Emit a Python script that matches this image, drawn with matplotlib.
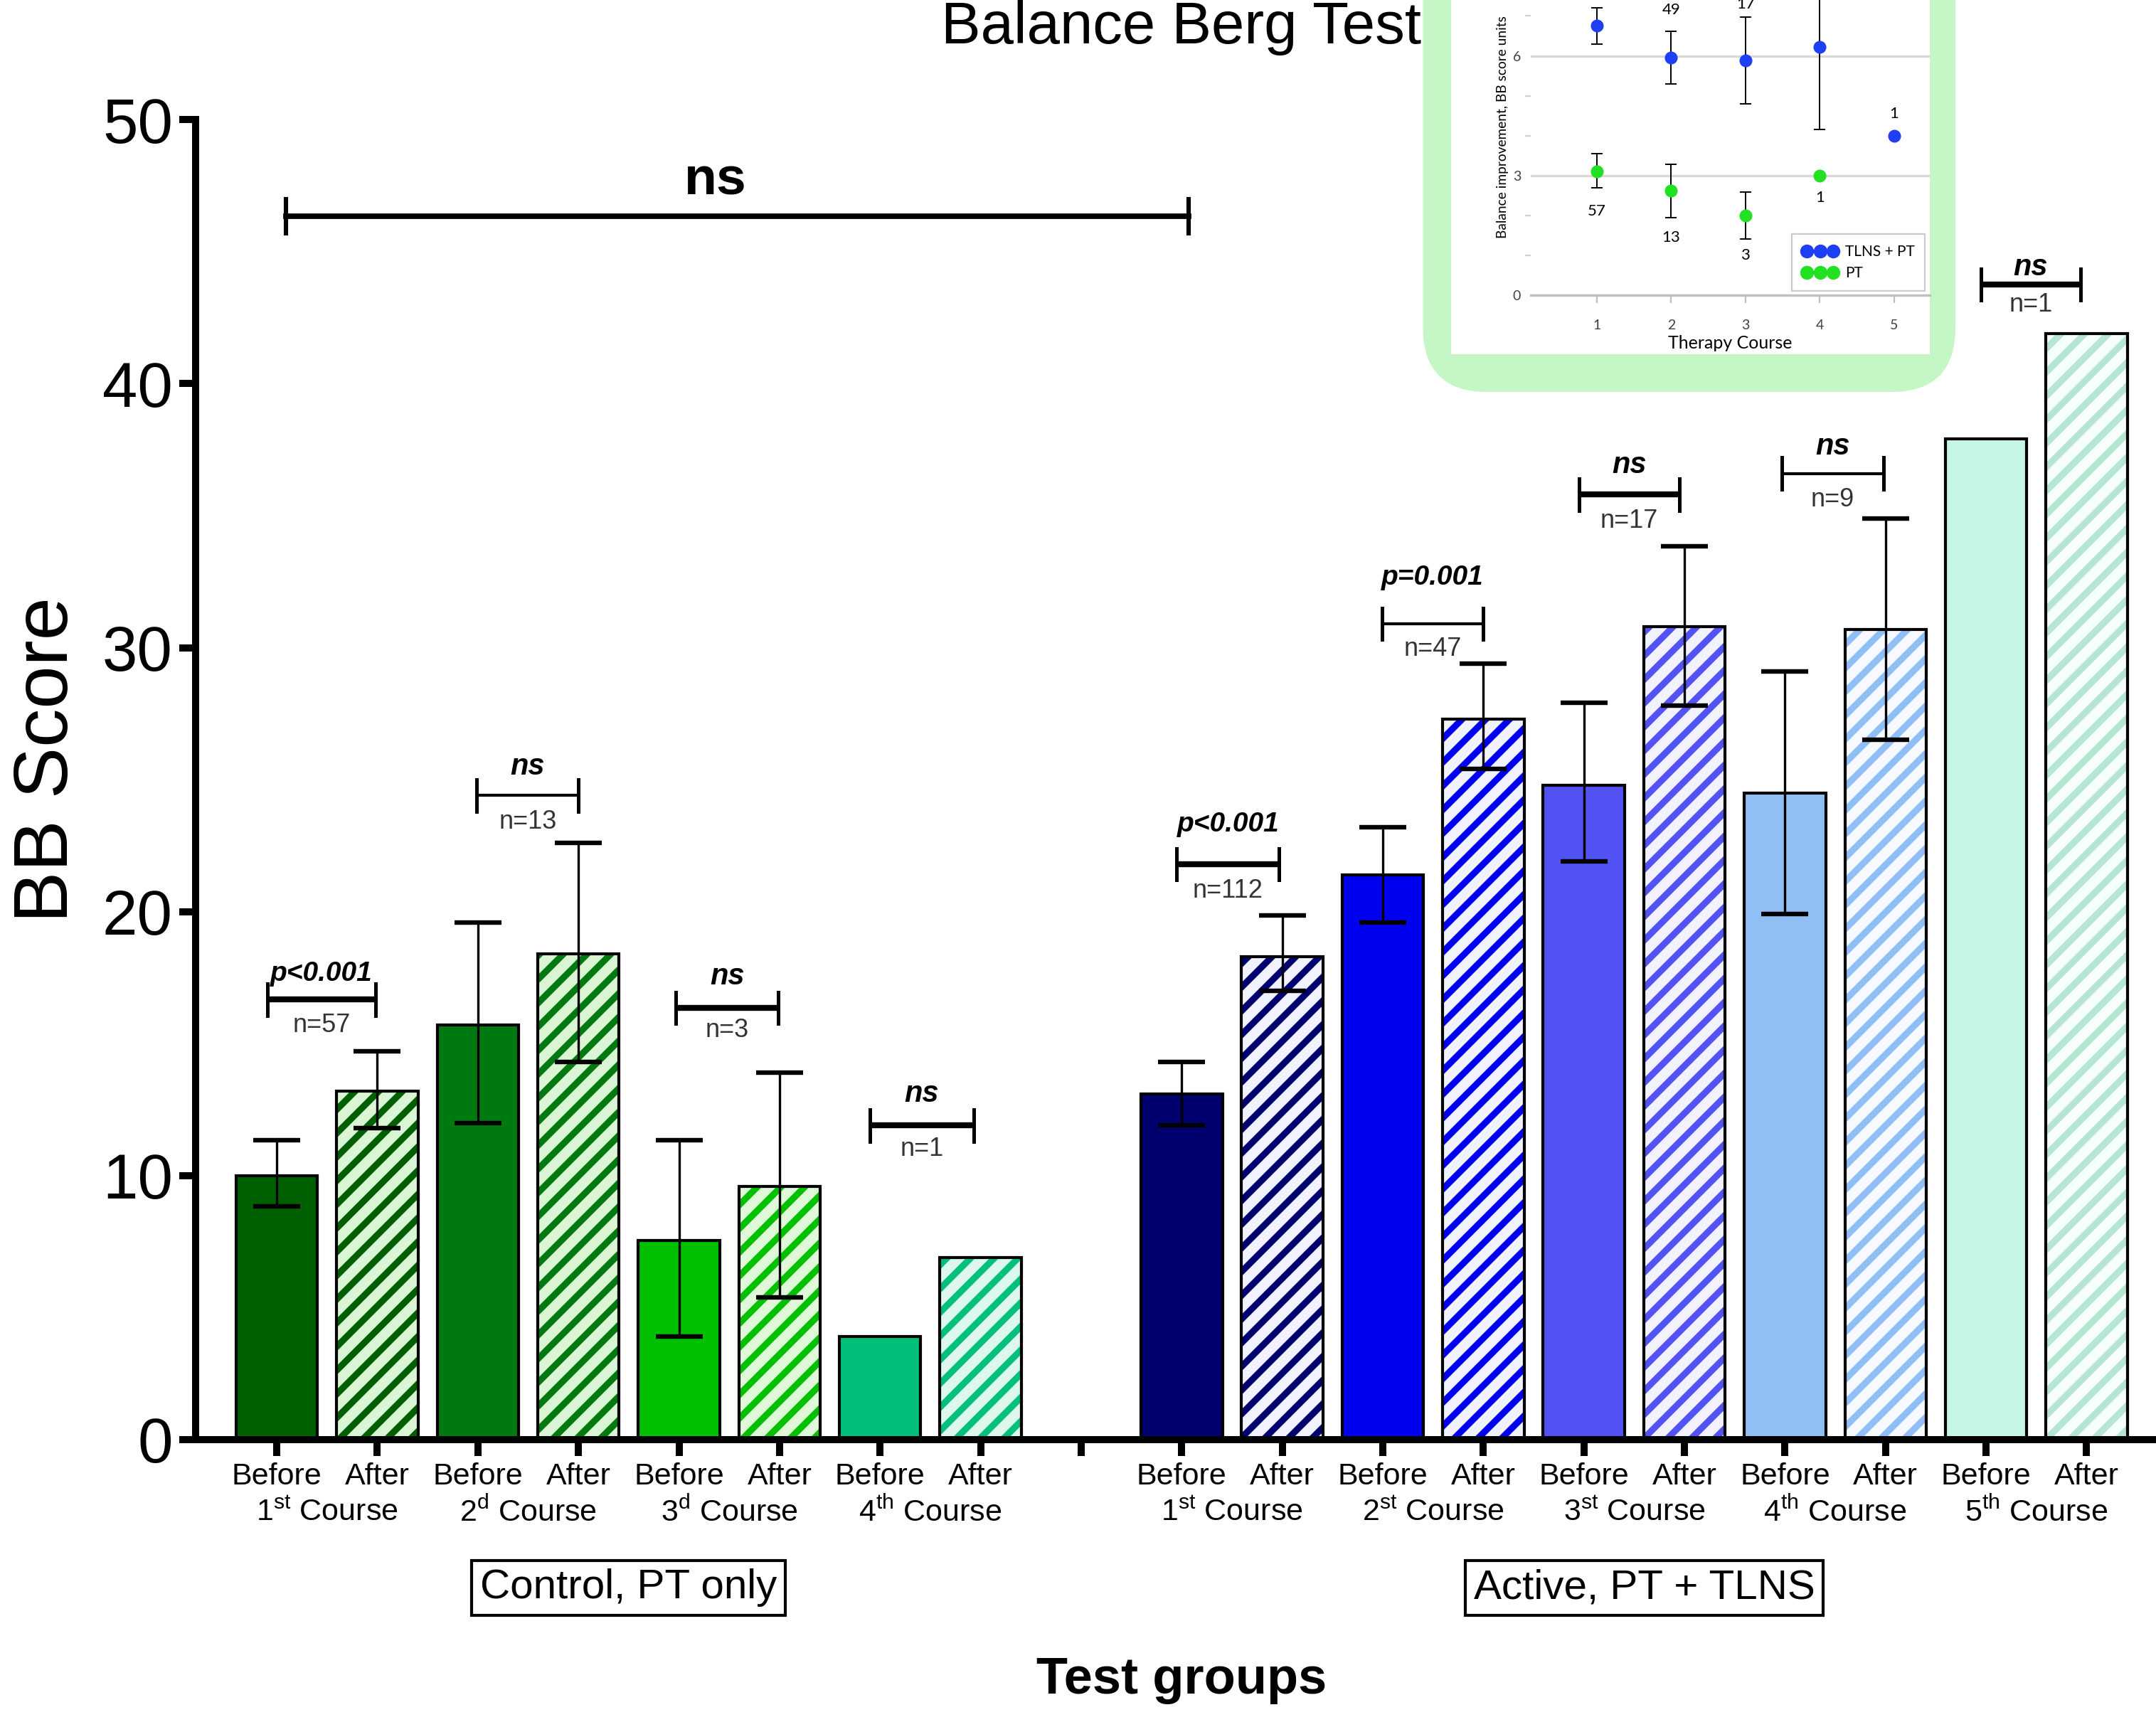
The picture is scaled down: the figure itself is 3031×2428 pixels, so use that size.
import matplotlib
matplotlib.use('Agg')
import matplotlib.pyplot as plt
from matplotlib import font_manager
from matplotlib.patches import FancyBboxPatch, Rectangle
from matplotlib.lines import Line2D

names = {f.name for f in font_manager.fontManager.ttflist}
narrow = 'Liberation Sans Narrow' if 'Liberation Sans Narrow' in names else 'Liberation Sans'
small = 'Lato' if 'Lato' in names else 'DejaVu Sans'

plt.rcParams['font.family'] = ['Liberation Sans', 'DejaVu Sans']
plt.rcParams['mathtext.fontset'] = 'custom'
plt.rcParams['mathtext.rm'] = narrow
plt.rcParams['hatch.linewidth'] = 3.3

# ---- main chart data (BB score, mean and error bar ends) ----
pos_ctrl = [0, 1, 2, 3, 4, 5, 6, 7]
bb_ctrl = [10.0, 13.2, 15.7, 18.4, 7.55, 9.6, 3.9, 6.9]
lo_ctrl = [8.85, 11.8, 12.0, 14.3, 3.9, 5.4, None, None]
hi_ctrl = [11.35, 14.7, 19.6, 22.6, 11.35, 13.9, None, None]

pos_act = [9, 10, 11, 12, 13, 14, 15, 16, 17, 18]
bb_act = [13.1, 18.3, 21.4, 27.3, 24.8, 30.8, 24.5, 30.7, 37.9, 41.9]
lo_act = [11.9, 17.0, 19.6, 25.4, 21.9, 27.8, 19.9, 26.5, None, None]
hi_act = [14.3, 19.85, 23.2, 29.4, 27.9, 33.85, 29.1, 34.9, None, None]

courses_ctrl = [('1', 'st'), ('2', 'd'), ('3', 'd'), ('4', 'th')]
courses_act = [('1', 'st'), ('2', 'st'), ('3', 'st'), ('4', 'th'), ('5', 'th')]

ctrl_colors = ['#005f00', '#007a10', '#00c000', '#00c07a']
ctrl_pale = ['#d9f5d3', '#d9f5d3', '#dff8d8', '#dcf8ee']
act_colors = ['#00006e', '#0000f0', '#5252f5', '#90bff5', '#c6f6e4']
act_hatch = ['#00006e', '#0000f0', '#5252f5', '#90bff5', '#b4e6d2']
act_pale = ['#f0f2ff', '#f0f2ff', '#f2f2ff', '#f6f9ff', '#f6fffb']

# significance brackets: x0, x1, y, thick, label, label y, n text, n y
sig_x0 = [-0.09, 1.99, 3.97, 5.9, 8.95, 10.99, 12.95, 14.97, 16.95]
sig_x1 = [0.98, 3.0, 4.99, 6.93, 9.97, 12.0, 13.95, 15.98, 17.94]
sig_y = [16.67, 24.4, 16.35, 11.9, 21.8, 30.9, 35.8, 36.6, 43.75]
sig_thick = [True, False, True, True, True, False, True, False, True]
sig_lab = ['p<0.001', 'ns', 'ns', 'ns', 'p<0.001', 'p=0.001', 'ns', 'ns', 'ns']
sig_lab_y = [17.65, 25.5, 17.55, 13.1, 23.3, 32.65, 36.9, 37.6, 44.4]
sig_n = ['n=57', 'n=13', 'n=3', 'n=1', 'n=112', 'n=47', 'n=17', 'n=9', 'n=1']
sig_n_y = [15.7, 23.4, 15.5, 11.0, 20.8, 29.95, 34.8, 35.6, 43.0]

# ---- inset data (improvement per therapy course) ----
inset_course = [1, 2, 3, 4, 5]
tlns_mean = [6.75, 5.96, 5.88, 6.22, 4.0]
tlns_lo = [6.30, 5.30, 4.80, 4.15, None]
tlns_hi = [7.21, 6.62, 6.97, 8.29, None]
# n labels visible inside the figure (courses 1 and 4 lie above the top edge)
tlns_n_x = [2, 3, 5]
tlns_n = ['49', '17', '1']
tlns_n_y = [7.15, 7.3, 4.55]
pt_course = [1, 2, 3, 4]
pt_mean = [3.11, 2.62, 2.0, 3.0]
pt_lo = [2.69, 1.95, 1.42, None]
pt_hi = [3.55, 3.29, 2.58, None]
pt_n = ['57', '13', '3', '1']
pt_n_y = [2.1, 1.45, 1.0, 2.45]

fig = plt.figure(figsize=(15.155, 12.14), dpi=200)
ax = fig.add_axes([0.0906, 0.1664, 0.9094, 0.7643])


def draw_group(pos, vals, lo, hi, colors, hatches, pales):
    for i, (x, v) in enumerate(zip(pos, vals)):
        c = colors[i // 2]
        if i % 2 == 0:
            ax.bar(x, v, 0.81, color=c, edgecolor='black', linewidth=1.5, zorder=2)
        else:
            ax.bar(x, v, 0.81, color=pales[i // 2], edgecolor=hatches[i // 2],
                   linewidth=0, hatch='//', zorder=2)
            ax.bar(x, v, 0.81, fill=False, edgecolor='black', linewidth=1.5, zorder=3)
    ex = [x for x, l in zip(pos, lo) if l is not None]
    ey = [v for v, l in zip(vals, lo) if l is not None]
    el = [v - l for v, l in zip(vals, lo) if l is not None]
    eh = [h - v for v, h in zip(vals, hi) if h is not None]
    ax.errorbar(ex, ey, yerr=[el, eh], fmt='none', ecolor='black', elinewidth=1.2,
                capsize=12, capthick=2.3, zorder=5)


draw_group(pos_ctrl, bb_ctrl, lo_ctrl, hi_ctrl, ctrl_colors, ctrl_colors, ctrl_pale)
draw_group(pos_act, bb_act, lo_act, hi_act, act_colors, act_hatch, act_pale)

ax.set_xlim(-0.81, 18.69)
ax.set_ylim(0, 50)
ax.set_yticks([0, 10, 20, 30, 40, 50])
ax.tick_params(axis='y', length=8.4, width=3.6, pad=3, labelsize=32)
ticks = pos_ctrl + [8] + pos_act
tick_labels = ['Before', 'After'] * 4 + [''] + ['Before', 'After'] * 5
ax.set_xticks(ticks)
ax.set_xticklabels(tick_labels, fontfamily=narrow, fontsize=15.5)
ax.tick_params(axis='x', length=8.4, width=3.6, pad=3)
for s in ['top', 'right']:
    ax.spines[s].set_visible(False)
for s in ['left', 'bottom']:
    ax.spines[s].set_linewidth(3.6)

for k, (num, sup) in enumerate(courses_ctrl):
    mid = (pos_ctrl[2 * k] + pos_ctrl[2 * k + 1]) / 2
    ax.annotate(num + r'$^{\mathrm{' + sup + '}}$ Course', xy=(mid, 0),
                xycoords=('data', 'axes fraction'), xytext=(0, -37),
                textcoords='offset points', ha='center', va='center',
                fontsize=15.5, fontfamily=narrow)
for k, (num, sup) in enumerate(courses_act):
    mid = (pos_act[2 * k] + pos_act[2 * k + 1]) / 2
    ax.annotate(num + r'$^{\mathrm{' + sup + '}}$ Course', xy=(mid, 0),
                xycoords=('data', 'axes fraction'), xytext=(0, -37),
                textcoords='offset points', ha='center', va='center',
                fontsize=15.5, fontfamily=narrow)

box = dict(boxstyle='square,pad=0.2', fc='white', ec='black', lw=1.5)
ax.annotate('Control, PT only', xy=(3.5, 0), xycoords=('data', 'axes fraction'),
            xytext=(0, -75), textcoords='offset points', ha='center', va='center',
            fontsize=21, fontfamily=narrow, bbox=box)
ax.annotate('Active, PT + TLNS', xy=(13.6, 0), xycoords=('data', 'axes fraction'),
            xytext=(0, -75), textcoords='offset points', ha='center', va='center',
            fontsize=21, fontfamily=narrow, bbox=box)

# significance brackets
for x0, x1, y, th, lab, ly, n, ny in zip(sig_x0, sig_x1, sig_y, sig_thick, sig_lab,
                                          sig_lab_y, sig_n, sig_n_y):
    lw = 3.0 if th else 1.5
    ax.plot([x0, x1], [y, y], color='black', lw=lw, solid_capstyle='butt', zorder=6)
    for xx in (x0, x1):
        ax.plot([xx, xx], [y - 0.6, y + 0.6], color='black', lw=1.8, zorder=6)
    xc = (x0 + x1) / 2
    ax.text(xc, ly, lab, ha='center', va='center', fontsize=15 if lab == 'ns' else 14,
            fontweight='bold', fontstyle='italic', fontfamily=narrow, zorder=6)
    ax.text(xc, ny, n, ha='center', va='center', fontsize=13, color='#333333',
            fontfamily=narrow, zorder=6)

ax.plot([0.09, 9.07], [46.35, 46.35], color='black', lw=2.8, zorder=6)
for xx in (0.09, 9.07):
    ax.plot([xx, xx], [46.35 - 0.65, 46.35 + 0.65], color='black', lw=2.2, zorder=6)
ax.text(4.36, 47.7, 'ns', ha='center', va='center', fontsize=27, fontweight='bold',
        fontfamily=narrow, zorder=6)

fig.text(0.548, 0.984, 'Balance Berg Test', ha='center', va='center', fontsize=30, zorder=3)
fig.text(0.022, 0.56, 'BB Score', rotation=90, ha='center', va='center', fontsize=39)
fig.text(0.548, 0.027, 'Test groups', ha='center', va='center', fontsize=26,
         fontweight='bold')

# ---- inset ----
fig.add_artist(FancyBboxPatch((0.660, 0.773), 0.247, 0.35,
                              boxstyle='round,pad=0,rounding_size=0.03',
                              mutation_aspect=1.25, transform=fig.transFigure,
                              fc='#c4f6c6', ec='none', zorder=5))
fig.add_artist(Rectangle((0.673, 0.795), 0.222, 0.3, transform=fig.transFigure,
                         fc='white', ec='none', zorder=5.5))
ins = fig.add_axes([0.710, 0.829, 0.185, 0.208])
ins.set_zorder(6)
ins.set_facecolor('none')
ins.set_xlim(0.11, 5.48)
ins.set_ylim(0, 9)
ins.set_yticks([0, 3, 6])
ins.set_yticks([1, 2, 4, 5, 7, 8], minor=True)
ins.set_xticks(inset_course)
ins.grid(axis='y', color='#d9d9d9', lw=1.2)
ins.set_axisbelow(True)
for s in ['top', 'right', 'left']:
    ins.spines[s].set_visible(False)
ins.spines['bottom'].set_color('#bfbfbf')
ins.spines['bottom'].set_linewidth(1.2)
ins.tick_params(axis='y', which='major', length=0, pad=5, labelsize=7, labelcolor='#404040')
ins.tick_params(axis='y', which='minor', length=3, width=0.8, color='#d0d0d0')
ins.tick_params(axis='x', length=4, width=0.8, color='#bfbfbf', pad=8, labelsize=7,
                labelcolor='#404040')
for lbl in ins.get_xticklabels() + ins.get_yticklabels():
    lbl.set_fontfamily(small)
ins.set_xlabel('Therapy Course', fontsize=9, fontfamily=small, labelpad=2)

blue = '#1f3ff5'
green = '#22e022'
ins.plot(inset_course, tlns_mean, 'o', color=blue, ms=5.5, zorder=4)
ins.plot(pt_course, pt_mean, 'o', color=green, ms=5.5, zorder=4)


def inset_err(xs, m, lo, hi):
    ex = [x for x, l in zip(xs, lo) if l is not None]
    ey = [v for v, l in zip(m, lo) if l is not None]
    el = [v - l for v, l in zip(m, lo) if l is not None]
    eh = [h - v for v, h in zip(m, hi) if h is not None]
    ins.errorbar(ex, ey, yerr=[el, eh], fmt='none', ecolor='black', elinewidth=0.7,
                 capsize=3, capthick=0.7, zorder=3)


inset_err(inset_course, tlns_mean, tlns_lo, tlns_hi)
inset_err(pt_course, pt_mean, pt_lo, pt_hi)
for x, t, y in zip(tlns_n_x, tlns_n, tlns_n_y):
    ins.text(x, y, t, ha='center', va='center', fontsize=8, fontfamily=small)
for x, t, y in zip(pt_course, pt_n, pt_n_y):
    ins.text(x, y, t, ha='center', va='center', fontsize=8, fontfamily=small)

handles = [Line2D([], [], marker='o', ls='none', color=blue, ms=6),
           Line2D([], [], marker='o', ls='none', color=green, ms=6)]
leg = ins.legend(handles, ['TLNS + PT', 'PT'], numpoints=3, loc='lower right',
                 bbox_to_anchor=(1.0, 0.0), borderaxespad=0.3, frameon=True,
                 fancybox=False, edgecolor='#bfbfbf', prop={'family': small, 'size': 7.5},
                 handlelength=2.4, handletextpad=0.5, borderpad=0.7, labelspacing=0.5)
leg.get_frame().set_linewidth(0.8)

fig.text(0.697, 0.862, 'Balance improvement, BB score units', rotation=90, ha='center',
         va='bottom', fontsize=6.9, fontfamily=small, zorder=7)

fig.savefig('out.png', dpi=200)
